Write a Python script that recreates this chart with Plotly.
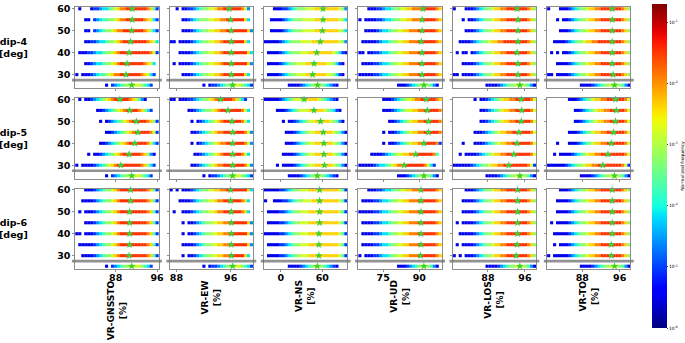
import numpy as np
import plotly.graph_objects as go

# ---------------- data ----------------
COLUMNS = ["VR-GNSSTO", "VR-EW", "VR-NS", "VR-UD", "VR-LOS", "VR-TO"]
ROWS = ["dip-4", "dip-5", "dip-6"]
BAND_Y = [60, 55, 50, 45, 40, 35, 30, 25.2]      # dip bands + overall strip
X_RANGES = [[80.2, 96.3], [87.0, 99.3], [-24, 96], [64.7, 99.3], [80.4, 98.4], [80.5, 98.3]]
X_TICKS = [[88, 96], [88, 96], [0, 60], [75, 90], [88, 96], [88, 96]]
Y_TICKS = [30, 40, 50, 60]
N_BINS = 28
# histogram level per bin (digit d -> log10 frequency = -5.5 + 0.45 d), (first bin, levels)
LV_D4_GNSSTO = [(1, "0   01123345678899999998741"), (3, "00 1234455678899999987631"),
                (3, "00 1234556788999999987531"), (3, "0011233455678999999998763"),
                (1, "000112334556789999999999861"), (3, "001233455678999999998763"),
                (0, "0 0001234456788999999987631"), (10, "0 12345566665431")]
LV_D4_EW = [(2, "0 00112345566788999999862"), (4, "00123455566778899999973"),
            (4, "000123455667788999999972"), (0, "00 000012345566778999999973"),
            (3, "0000123455667789999999973"), (1, "0 0000123455667789999999972"),
            (4, "00012345566778999999973"), (11, "0 011234556665431")]
LV_D4_NS = [(3, "0001123455566677777777652"), (2, "00001234555666677777777653"),
            (2, "00001234555666677777777653"), (0, "0000012345556666777777777652"),
            (1, "000012345556667777777765310"), (1, "00001234556667777777665310"),
            (1, "00001234556667777777665310"), (8, "00001234566543210")]
LV_D4_UD = [(3, "0001123345566778889999987"), (0, "0 00001123345566778889999987"),
            (2, "00001233455667788899999987"), (1, "000001233455667788899999987"),
            (0, "00 0011233455667788899999987"), (1, "000011233455667788899999987"),
            (0, "0000011233455667788899999987"), (13, "00012345665420")]
LV_D4_LOS = [(0, "0   000123455677889999999875"), (3, "0 00123455677889999999875"),
             (4, "000123455677889999999875"), (2, "00001234556778899999999875"),
             (1, "0 00 0123455677889999999875"), (3, "0000123455677889999999875"),
             (0, "00 0000123455677889999999875"), (11, "00001234556665420")]
LV_D4_TO = [(0, "0   000123455677889999999875"), (3, "0 00123455677889999999875"),
            (4, "000123455677889999999875"), (2, "00001234556778899999999875"),
            (1, "0 0 00123455677889999999875"), (3, "0000123455677889999999875"),
            (0, "00 0000123455677889999999875"), (11, "00001234556665420")]
LV_D5_GNSSTO = [(1, "0 001234567899999876420"), (7, "0012345678999987531"),
                (8, "0 012345678999998751"), (10, "001234567899999861"),
                (8, "00123456789999998631"), (4, "0 001234567899999987520"),
                (0, "0 0000123456789999999987531"), (10, "0 12345566665431")]
LV_D5_EW = [(0, "00 00011234556789999987531"), (6, "001234556789999999863"),
            (7, "0 012345678999999863"), (7, "001234567889999999862"),
            (7, "0 0123456788999999862"), (8, "0012345678999999863"),
            (7, "001234567889999999862"), (11, "0 011234556665431")]
LV_D5_NS = [(0, "0000012345666777776543210"), (4, "0001234566677777654310"),
            (6, "0 0012345667777765420"), (7, "000123456677777765420"),
            (7, "000123456677777765420"), (6, "0000123456677777765420"),
            (4, "0 0000123456677777765420"), (8, "00001234566543210")]
LV_D5_UD = [(8, "00012345667889999987"), (8, "00012345667788999998"),
            (10, "001234567788999998"), (8, "0 001234567788999998"),
            (8, "0 001234567788999981"), (4, "00001234566778899999984"),
            (0, "00000123345678899999998631"), (13, "00012345665420")]
LV_D5_LOS = [(7, "0 0012345677889999986"), (9, "0012345677889999986"),
             (9, "0012345677889999986"), (7, "000123456778899999986"),
             (3, "0   000123456778899999986"), (2, "0 000012345677889999999986"),
             (0, "0000001234556778899999999861"), (11, "00001234556665420")]
LV_D5_TO = [(7, "000123456778899999986"), (9, "0012345677889999986"),
            (9, "0012345677889999986"), (7, "000123456778899999986"),
            (3, "0   000123456778899999986"), (2, "0 000012345677889999999986"),
            (0, "0000001234556778899999999861"), (11, "00001234556665420")]
LV_D6_GNSSTO = [(3, "0001234556789999999998741"), (2, "00001234556789999999998741"),
                (1, "0 0001234556789999999998741"), (3, "0001234556789999999998741"),
                (0, "00 0001234556789999999998741"), (1, "000001234556789999999998741"),
                (2, "00001234556789999999998741"), (10, "0 12345566665431")]
LV_D6_EW = [(0, "0 0 000123455667788999999973"), (3, "000012345566788999999873"),
            (1, "0  00012345566788999999873"), (4, "0 0012345566778899999972"),
            (4, "0 0012345566778899999972"), (4, "000012345566778899999972"),
            (4, "0 001234556677889999973"), (11, "0 011234556665431")]
LV_D6_NS = [(0, "0000011234556667777777777641"), (0, "0  0001123455666777777777641"),
            (1, "000011234556667777777777641"), (1, "000011234556667777777777641"),
            (0, "0000011234556667777777777641"), (1, "000011234556667777777777641"),
            (1, "000011234556667777777777641"), (8, "00001234566543210")]
LV_D6_UD = [(3, "0001123345566778889999987"), (1, "000011233455667788899999987"),
            (0, "0000011233455667788899999987"), (1, "000011233455667788899999987"),
            (1, "000011233455667788899999987"), (1, "000011233455667788899999987"),
            (0, "0 00011233455667788899999987"), (13, "00012345665420")]
LV_D6_LOS = [(4, "000123455677889999999875"), (3, "0000123455677889999999875"),
             (3, "0000123455677889999999875"), (1, "0 0000123455677889999999875"),
             (2, "00000123455677889999999875"), (1, "0 0000123455677889999999875"),
             (0, "0 0 000123455677889999999875"), (11, "00001234556665420")]
LV_D6_TO = [(4, "000123455677889999999875"), (3, "0000123455677889999999875"),
            (3, "0000123455677889999999875"), (1, "0 0000123455677889999999875"),
            (2, "00000123455677889999999875"), (2, "0 000123455677889999999875"),
            (0, "0 00000123455677889999999875"), (11, "00001234556665420")]
# median (green star) per band
ST_D4 = [[91.2, 91.2, 91.1, 90.9, 90.6, 90.2, 90.0, 91.1],
         [95.8, 96.0, 96.1, 96.1, 96.1, 96.1, 96.1, 96.3],
         [61, 61, 60, 57, 52, 48, 46, 53],
         [91.5, 91.2, 91.2, 90.8, 91.1, 91.1, 91.1, 91.9],
         [94.3, 94.5, 94.5, 94.5, 94.3, 94.5, 94.5, 94.9],
         [94.4, 94.4, 94.4, 94.4, 94.4, 94.4, 94.6, 94.9]]
ST_D5 = [[88.8, 90.7, 92.0, 92.3, 91.7, 90.6, 89.0, 91.1],
         [94.5, 95.6, 96.2, 96.3, 96.3, 96.3, 96.3, 96.3],
         [33.6, 47.9, 57.4, 61.2, 62.2, 62.2, 63.1, 52.7],
         [92.9, 93.3, 93.8, 93.8, 91.9, 88.5, 83.7, 91.9],
         [95.2, 95.3, 95.2, 94.7, 94.3, 93.6, 92.5, 94.9],
         [95.1, 95.3, 95.1, 94.7, 94.2, 93.5, 92.4, 94.9]]
ST_D6 = [[90.9, 90.9, 90.7, 90.7, 90.7, 90.7, 90.6, 91.1],
         [96.0, 96.0, 96.1, 96.1, 96.1, 96.1, 96.1, 96.3],
         [56.0, 56.0, 56.0, 56.0, 55.0, 55.0, 55.0, 52.7],
         [90.7, 90.7, 90.7, 90.7, 90.7, 90.7, 90.5, 91.9],
         [94.4, 94.4, 94.4, 94.4, 94.4, 94.3, 94.1, 94.9],
         [94.4, 94.4, 94.4, 94.4, 94.4, 94.2, 94.2, 94.9]]
LEVELS = [[LV_D4_GNSSTO, LV_D4_EW, LV_D4_NS, LV_D4_UD, LV_D4_LOS, LV_D4_TO],
          [LV_D5_GNSSTO, LV_D5_EW, LV_D5_NS, LV_D5_UD, LV_D5_LOS, LV_D5_TO],
          [LV_D6_GNSSTO, LV_D6_EW, LV_D6_NS, LV_D6_UD, LV_D6_LOS, LV_D6_TO]]
STARS = [ST_D4, ST_D5, ST_D6]
CB_TICKS = [-6, -5, -4, -3, -2, -1]
CB_MIN, CB_MAX = -6, -0.7
LINE_Y = 27.5

# ---------------- style / layout ----------------
W, H = 685, 343
COL_LEFT = [76, 171.2, 266.4, 361.6, 456.8, 552]
COL_W = 84
ROW_TB = [(3.5, 85), (95.2, 176.7), (186.7, 268.2)]
Y_RANGE = [23.9, 60.6]
FONT = "DejaVu Sans"


def jet(t):
    r = np.interp(t, [0, 0.35, 0.66, 0.89, 1], [0, 0, 1, 1, 0.5])
    g = np.interp(t, [0, 0.125, 0.375, 0.64, 0.91, 1], [0, 0, 1, 1, 0, 0])
    b = np.interp(t, [0, 0.11, 0.34, 0.65, 1], [0.5, 1, 1, 0, 0])
    return "rgb(%d,%d,%d)" % (r * 255, g * 255, b * 255)


JET = [[t, jet(t)] for t in np.linspace(0, 1, 41)]

fig = go.Figure()
layout = dict(width=W, height=H, margin=dict(l=0, r=0, t=0, b=0),
              paper_bgcolor="white", plot_bgcolor="white", showlegend=False,
              font=dict(family=FONT, color="black"))
shapes, annotations = [], []

for r in range(3):
    top, bot = ROW_TB[r]
    for c in range(6):
        n = r * 6 + c + 1
        sfx = "" if n == 1 else str(n)
        x0, x1 = X_RANGES[c]
        edges = np.linspace(x0, x1, N_BINS + 1)
        centers = (edges[:-1] + edges[1:]) / 2
        xs, ys, vs = [], [], []
        for (start, lev), yb in zip(LEVELS[r][c], BAND_Y):
            for k, ch in enumerate(lev):
                if ch != " " and start + k < N_BINS:
                    xs.append(centers[start + k])
                    ys.append(yb)
                    vs.append(-5.5 + 0.45 * int(ch))
        fig.add_trace(go.Scatter(
            x=xs, y=ys, mode="markers", xaxis="x" + sfx, yaxis="y" + sfx,
            cliponaxis=False, hoverinfo="skip",
            marker=dict(symbol="square", size=3.1, color=vs, coloraxis="coloraxis",
                        line=dict(width=0))))
        fig.add_trace(go.Scatter(
            x=STARS[r][c], y=BAND_Y, mode="markers", xaxis="x" + sfx, yaxis="y" + sfx,
            cliponaxis=False, hoverinfo="skip",
            marker=dict(symbol="star", size=6, color="#3ccf3c", line=dict(width=0))))
        L = COL_LEFT[c]
        layout["xaxis" + sfx] = dict(
            domain=[L / W, (L + COL_W) / W], range=[x0, x1], anchor="y" + sfx,
            showline=True, mirror=True, linecolor="#8c8c8c", linewidth=1,
            showgrid=False, zeroline=False, tickvals=X_TICKS[c], ticks="outside",
            ticklen=2, tickcolor="#8c8c8c", showticklabels=(r == 2),
            ticklabelstandoff=-2,
            tickfont=dict(family=FONT, size=9.5, weight="bold", color="black"))
        layout["yaxis" + sfx] = dict(
            domain=[1 - bot / H, 1 - top / H], range=Y_RANGE, anchor="x" + sfx,
            showline=True, mirror=True, linecolor="#8c8c8c", linewidth=1,
            showgrid=False, zeroline=False, tickvals=Y_TICKS, ticks="outside",
            ticklen=2, tickcolor="#8c8c8c", showticklabels=(c == 0),
            tickfont=dict(family=FONT, size=9.5, weight="bold", color="black"))
        yfrac = (LINE_Y - Y_RANGE[0]) / (Y_RANGE[1] - Y_RANGE[0])
        shapes.append(dict(type="line", xref="x%s domain" % sfx, yref="y%s domain" % sfx,
                           x0=-0.04, x1=1.04, y0=yfrac, y1=yfrac, layer="above",
                           line=dict(color="rgba(110,110,110,0.75)", width=2.6)))
    annotations.append(dict(text="%s<br>[deg]" % ROWS[r], x=14 / W, y=1 - (top + bot) / 2 / H,
                            xref="paper", yref="paper", xanchor="center", yanchor="middle",
                            showarrow=False, align="center",
                            font=dict(family=FONT, size=9.5, weight="bold", color="black")))

for c in range(6):
    annotations.append(dict(text="%s<br>[%%]" % COLUMNS[c], x=(COL_LEFT[c] + COL_W / 2) / W,
                            y=1 - 278.5 / H, xref="paper", yref="paper", xanchor="center",
                            yanchor="top", textangle=-90, showarrow=False, align="center",
                            borderpad=0,
                            font=dict(family=FONT, size=9.1, weight="bold", color="black")))

layout["coloraxis"] = dict(
    cmin=CB_MIN, cmax=CB_MAX, colorscale=JET,
    colorbar=dict(x=658 / W, xanchor="left", y=1, yanchor="top", len=328 / H,
                  lenmode="fraction", thickness=15, thicknessmode="pixels",
                  outlinewidth=0, xpad=0, ypad=0, tickvals=CB_TICKS,
                  ticktext=["10<sup>%d</sup>" % t for t in CB_TICKS],
                  ticks="outside", ticklen=1.5, tickwidth=0.5,
                  tickfont=dict(family=FONT, size=4.5, color="black"),
                  title=dict(text="Normalized frequency", side="right",
                             font=dict(family=FONT, size=4.5, color="black"))))
layout["shapes"] = shapes
layout["annotations"] = annotations
fig.update_layout(**layout)
fig.write_html("out.html", config={"displayModeBar": False},
               post_script="document.body.style.margin='0px';")
